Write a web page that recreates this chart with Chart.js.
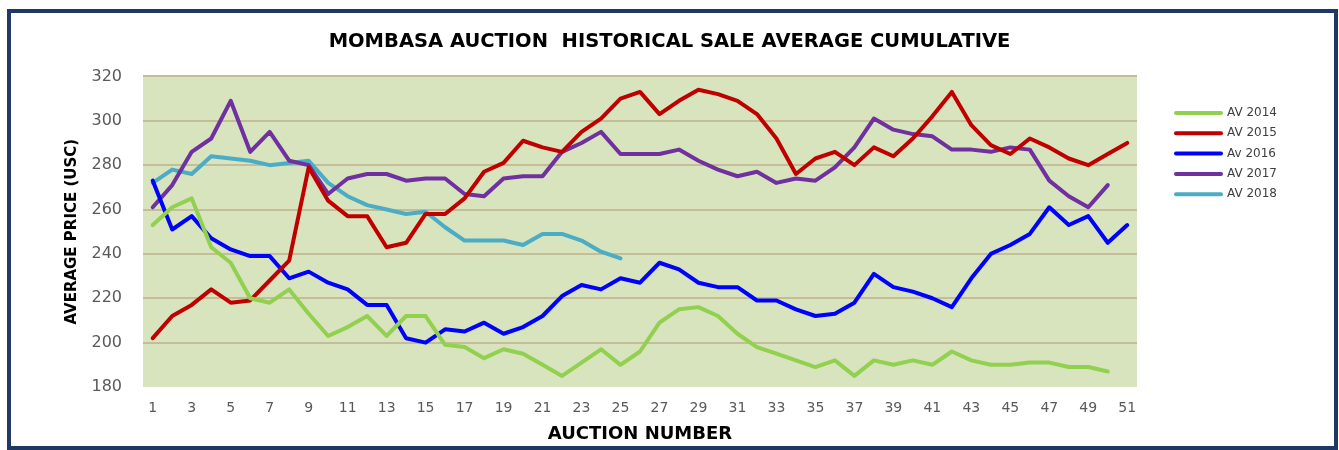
<!DOCTYPE html>
<html>
<head>
<meta charset="utf-8">
<title>Mombasa Auction Historical Sale Average Cumulative</title>
<script src="https://cdn.jsdelivr.net/npm/chart.js@4/dist/chart.umd.min.js"></script>
<style>
  html, body { margin: 0; padding: 0; background: #fff; overflow: hidden; }
  #wrap { position: relative; width: 1339px; height: 450px; }
</style>
</head>
<body>
<div id="wrap"><canvas id="auctionChart"></canvas></div>
<script>
// Auction numbers on the x axis
const auctionNumbers = [1, 2, 3, 4, 5, 6, 7, 8, 9, 10, 11, 12, 13, 14, 15, 16, 17, 18, 19, 20,
  21, 22, 23, 24, 25, 26, 27, 28, 29, 30, 31, 32, 33, 34, 35, 36, 37, 38, 39, 40,
  41, 42, 43, 44, 45, 46, 47, 48, 49, 50, 51];

// Average price (USc) per auction
const av2014 = [253, 261, 265, 243, 236, 220, 218, 224, 213, 203, 207, 212, 203, 212, 212, 199, 198, 193, 197, 195,
  190, 185, 191, 197, 190, 196, 209, 215, 216, 212, 204, 198, 195, 192, 189, 192, 185, 192, 190, 192,
  190, 196, 192, 190, 190, 191, 191, 189, 189, 187];
const av2015 = [202, 212, 217, 224, 218, 219, 228, 237, 279, 264, 257, 257, 243, 245, 258, 258, 265, 277, 281, 291,
  288, 286, 295, 301, 310, 313, 303, 309, 314, 312, 309, 303, 292, 276, 283, 286, 280, 288, 284, 292,
  302, 313, 298, 289, 285, 292, 288, 283, 280, 285, 290];
const av2016 = [273, 251, 257, 247, 242, 239, 239, 229, 232, 227, 224, 217, 217, 202, 200, 206, 205, 209, 204, 207,
  212, 221, 226, 224, 229, 227, 236, 233, 227, 225, 225, 219, 219, 215, 212, 213, 218, 231, 225, 223,
  220, 216, 229, 240, 244, 249, 261, 253, 257, 245, 253];
const av2017 = [261, 271, 286, 292, 309, 286, 295, 282, 280, 267, 274, 276, 276, 273, 274, 274, 267, 266, 274, 275,
  275, 286, 290, 295, 285, 285, 285, 287, 282, 278, 275, 277, 272, 274, 273, 279, 288, 301, 296, 294,
  293, 287, 287, 286, 288, 287, 273, 266, 261, 271];
const av2018 = [272, 278, 276, 284, 283, 282, 280, 281, 282, 272, 266, 262, 260, 258, 259, 252, 246, 246, 246, 244,
  249, 249, 246, 241, 238];

const seriesNames = ['AV 2014', 'AV 2015', 'Av 2016', 'AV 2017', 'AV 2018'];
const seriesColors = ['#92D050', '#C00000', '#0000FF', '#7030A0', '#4BACC6'];
const seriesData = [av2014, av2015, av2016, av2017, av2018];

const yTicks = [180, 200, 220, 240, 260, 280, 300, 320];

Chart.defaults.font.family = "'DejaVu Sans', sans-serif";

// white page, navy frame and green plot background
const framePlugin = {
  id: 'frame',
  beforeDraw(chart) {
    const {ctx, chartArea} = chart;
    ctx.save();
    ctx.fillStyle = '#ffffff';
    ctx.fillRect(0, 0, chart.width, chart.height);
    ctx.fillStyle = '#D7E4BD';
    ctx.fillRect(chartArea.left, chartArea.top, chartArea.right - chartArea.left, chartArea.bottom - chartArea.top);
    ctx.restore();
  },
  afterDraw(chart) {
    const ctx = chart.ctx;
    ctx.save();
    ctx.strokeStyle = '#1F3864';
    ctx.lineWidth = 4;
    ctx.strokeRect(9, 11, chart.width - 12, chart.height - 13);
    ctx.restore();
  }
};

// legend on the right, built from the datasets
const sideLegend = {
  id: 'sideLegend',
  afterDraw(chart) {
    const ctx = chart.ctx;
    ctx.save();
    ctx.font = "12px 'DejaVu Sans'";
    ctx.textBaseline = 'middle';
    chart.data.datasets.forEach((ds, i) => {
      const y = 113 + i * 20.3;
      ctx.strokeStyle = ds.borderColor;
      ctx.lineWidth = 4;
      ctx.lineCap = 'round';
      ctx.beginPath();
      ctx.moveTo(1176, y);
      ctx.lineTo(1221, y);
      ctx.stroke();
      ctx.fillStyle = '#404040';
      ctx.fillText(ds.label, 1227, y);
    });
    ctx.restore();
  }
};

const datasets = seriesNames.map((name, i) => ({
  label: name,
  data: seriesData[i],
  borderColor: seriesColors[i],
  backgroundColor: seriesColors[i],
  borderWidth: 4,
  borderCapStyle: 'round',
  borderJoinStyle: 'round',
  pointRadius: 0,
  tension: 0,
  fill: false,
  yAxisID: 'y'
}));

new Chart(document.getElementById('auctionChart'), {
  type: 'line',
  data: { labels: auctionNumbers, datasets: datasets },
  options: {
    responsive: true,
    maintainAspectRatio: false,
    animation: false,
    devicePixelRatio: 1,
    layout: { padding: 0 },
    plugins: {
      legend: { display: false },
      tooltip: { enabled: false },
      title: {
        display: true,
        text: 'MOMBASA AUCTION  HISTORICAL SALE AVERAGE CUMULATIVE',
        color: '#000000',
        font: { size: 19.5, weight: 'bold' },
        padding: { top: 30, bottom: 23 }
      }
    },
    scales: {
      x: {
        offset: true,
        grid: { display: false, drawTicks: false },
        border: { display: false },
        ticks: {
          autoSkip: false,
          maxRotation: 0,
          minRotation: 0,
          padding: 13,
          color: '#595959',
          font: { size: 14 },
          callback: (val, i) => (i % 2 === 0 ? auctionNumbers[i] : '')
        },
        title: {
          display: true,
          text: 'AUCTION NUMBER',
          color: '#000000',
          font: { size: 18, weight: 'bold' },
          padding: { top: 2, bottom: 5 }
        },
        afterFit: scale => { scale.height = 63; }
      },
      y: {
        min: yTicks[0],
        max: yTicks[yTicks.length - 1],
        afterBuildTicks: scale => { scale.ticks = yTicks.map(v => ({ value: v })); },
        grid: {
          drawTicks: false,
          lineWidth: 2,
          color: c => (c.tick && c.tick.value === yTicks[0] ? 'rgba(0,0,0,0)' : '#C4BD97')
        },
        border: { display: false },
        ticks: {
          padding: 21,
          color: '#595959',
          font: { size: 16 }
        },
        title: {
          display: true,
          text: 'AVERAGE PRICE (USC)',
          color: '#000000',
          font: { size: 15, weight: 'bold' },
          padding: { top: 63, bottom: 0 }
        },
        afterFit: scale => { scale.width = 143; }
      },
      // empty right-hand box that leaves room for the legend
      legendSpace: {
        type: 'linear',
        position: 'right',
        grid: { display: false, drawTicks: false },
        border: { display: false },
        ticks: { display: false },
        afterFit: scale => { scale.width = 202; }
      }
    }
  },
  plugins: [framePlugin, sideLegend]
});
</script>
</body>
</html>
